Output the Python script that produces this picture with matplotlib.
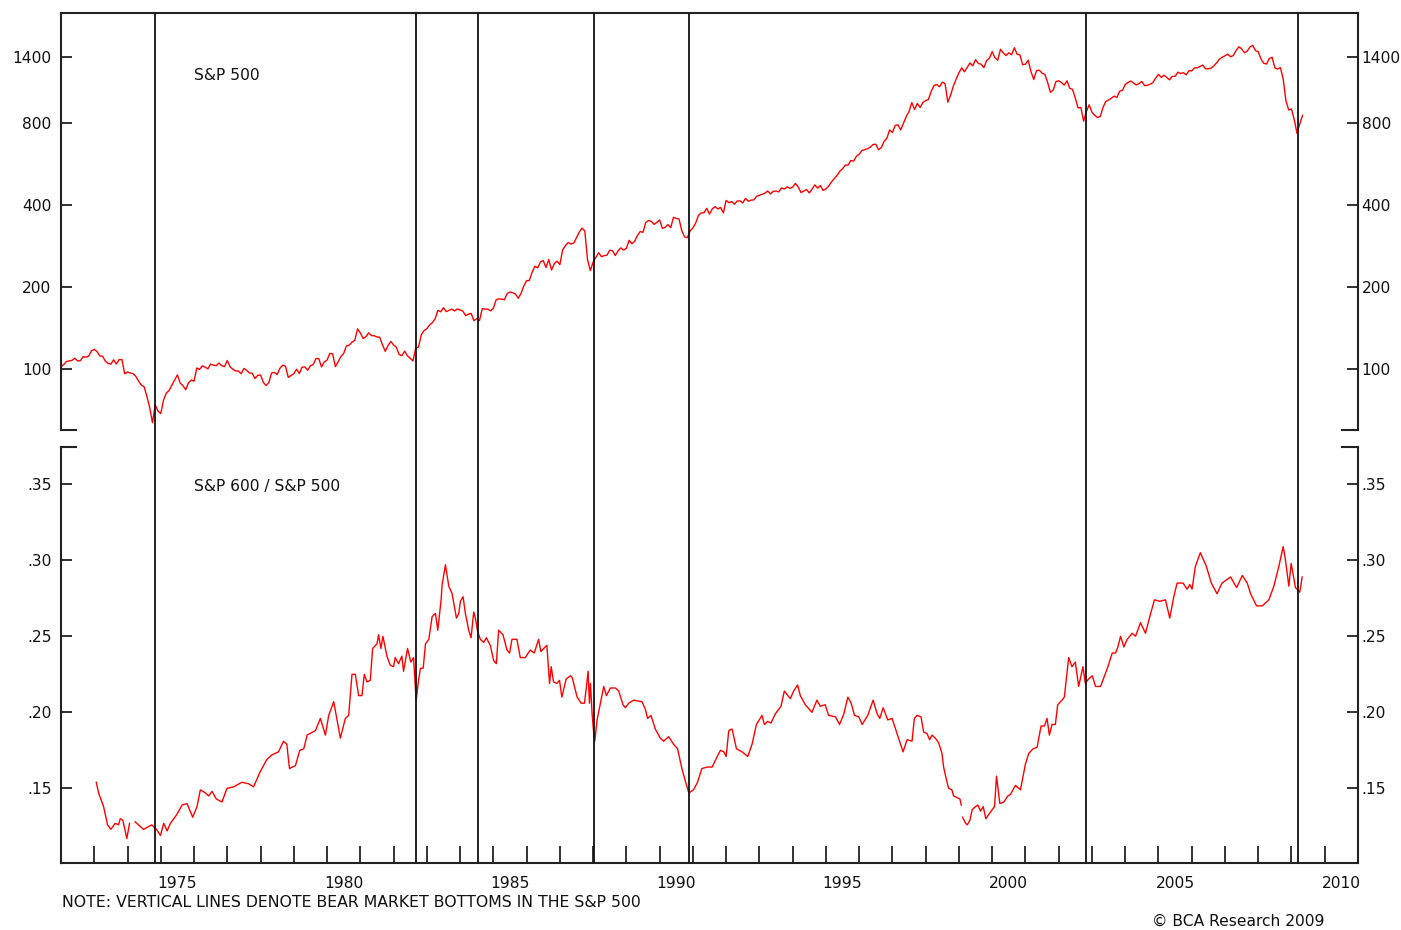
import numpy as np
import matplotlib
matplotlib.use("Agg")
import matplotlib.pyplot as plt
from matplotlib.ticker import FixedLocator, NullLocator

plt.rcParams['font.family'] = ['DejaVu Sans']

# S&P 500, month-end values, Dec 1971 .. Apr 2009
sp500 = [
    102.1,
    103.9, 106.6, 107.2, 107.7, 109.5, 107.1, 107.4, 111.1, 110.6, 111.6, 116.7, 118.1,  # 1972
    116.0, 111.7, 111.5, 106.9, 104.9, 104.3, 108.2, 104.3, 108.4, 108.3, 96.0, 97.6,  # 1973
    96.6, 96.2, 94.0, 90.3, 87.3, 86.0, 79.3, 72.2, 63.5, 73.9, 70.0, 68.6,  # 1974
    77.0, 81.6, 83.4, 87.3, 91.2, 95.2, 88.8, 86.9, 83.9, 89.0, 91.2, 90.2,  # 1975
    100.9, 99.7, 102.8, 101.6, 100.2, 104.3, 103.4, 102.9, 105.2, 102.9, 102.1, 107.5,  # 1976
    102.0, 99.8, 98.4, 98.4, 96.1, 100.5, 98.9, 96.8, 96.5, 92.3, 94.8, 95.1,  # 1977
    89.3, 87.0, 89.2, 96.8, 97.2, 95.5, 100.7, 103.3, 102.5, 93.2, 94.7, 96.1,  # 1978
    99.9, 96.3, 101.6, 101.8, 99.1, 102.9, 103.8, 109.3, 109.3, 101.8, 106.2, 107.9,  # 1979
    114.2, 113.7, 102.1, 106.3, 111.2, 114.2, 121.7, 122.4, 125.5, 127.5, 140.5, 135.8,  # 1980
    129.6, 131.3, 136.0, 132.8, 132.6, 131.2, 130.9, 122.8, 116.2, 121.9, 126.4, 122.6,  # 1981
    120.4, 113.1, 112.0, 116.4, 111.9, 109.6, 107.1, 119.5, 120.4, 133.7, 138.5, 140.6,  # 1982
    145.3, 148.1, 153.0, 164.4, 162.4, 168.1, 162.6, 164.4, 166.1, 163.6, 166.4, 164.9,  # 1983
    163.4, 157.1, 159.2, 160.1, 150.6, 153.2, 150.7, 166.7, 166.1, 166.1, 163.6, 167.2,  # 1984
    179.6, 181.2, 180.7, 179.8, 189.6, 191.9, 190.9, 188.6, 182.1, 189.8, 202.2, 211.3,  # 1985
    211.8, 226.9, 238.9, 235.5, 247.4, 250.8, 236.1, 252.9, 231.3, 244.0, 249.2, 242.2,  # 1986
    274.1, 284.2, 291.7, 288.4, 290.1, 304.0, 318.7, 329.8, 321.8, 251.8, 230.3, 247.1,  # 1987
    257.1, 267.8, 258.9, 261.3, 262.2, 273.5, 272.0, 261.5, 271.9, 279.0, 273.7, 277.7,  # 1988
    297.5, 288.9, 294.9, 309.6, 320.5, 318.0, 346.1, 351.5, 349.2, 340.4, 346.0, 353.4,  # 1989
    329.1, 331.9, 339.9, 330.8, 361.2, 358.0, 356.2, 322.6, 306.1, 304.0, 322.2, 330.2,  # 1990
    343.9, 367.1, 375.2, 375.3, 389.8, 371.2, 387.8, 395.4, 387.9, 392.5, 375.2, 417.1,  # 1991
    408.8, 412.7, 403.7, 414.9, 415.4, 408.1, 424.2, 414.0, 417.8, 418.7, 431.4, 435.7,  # 1992
    438.8, 443.4, 451.7, 440.2, 450.2, 451.0, 448.1, 463.6, 458.9, 467.8, 461.8, 466.5,  # 1993
    481.6, 467.1, 445.8, 451.0, 457.3, 444.3, 458.3, 475.5, 462.7, 472.4, 453.7, 459.3,  # 1994
    470.4, 487.4, 500.7, 514.7, 533.4, 544.8, 562.1, 561.9, 584.4, 581.5, 605.4, 615.9,  # 1995
    636.0, 640.4, 645.5, 654.2, 669.1, 670.6, 640.0, 652.0, 687.3, 705.3, 757.0, 740.7,  # 1996
    786.2, 790.8, 757.1, 801.3, 848.3, 885.1, 954.3, 899.5, 947.3, 914.6, 955.4, 970.4,  # 1997
    980.3, 1049.3, 1101.8, 1111.8, 1090.8, 1133.8, 1120.7, 957.3, 1017.0, 1098.7, 1163.6, 1229.2,  # 1998
    1279.6, 1238.3, 1286.4, 1335.2, 1301.8, 1372.7, 1328.7, 1320.4, 1282.7, 1362.9, 1389.0, 1469.3,  # 1999
    1394.5, 1366.4, 1498.6, 1452.4, 1420.6, 1454.6, 1430.8, 1517.7, 1436.5, 1429.4, 1315.2, 1320.3,  # 2000
    1366.0, 1239.9, 1160.3, 1249.5, 1255.8, 1224.4, 1211.2, 1133.6, 1040.9, 1059.8, 1139.5, 1148.1,  # 2001
    1130.2, 1106.7, 1147.4, 1076.9, 1067.1, 989.8, 911.6, 916.1, 815.3, 885.8, 936.3, 879.8,  # 2002
    855.7, 841.2, 848.2, 916.9, 963.6, 974.5, 990.3, 1008.0, 996.0, 1050.7, 1058.2, 1111.9,  # 2003
    1131.1, 1144.9, 1126.2, 1107.3, 1120.7, 1140.8, 1101.7, 1104.2, 1114.6, 1130.2, 1173.8, 1211.9,  # 2004
    1181.3, 1203.6, 1180.6, 1156.9, 1191.5, 1191.3, 1234.2, 1220.3, 1228.8, 1207.0, 1249.5, 1248.3,  # 2005
    1280.1, 1280.7, 1294.9, 1310.6, 1270.1, 1270.2, 1276.7, 1303.8, 1335.9, 1377.9, 1400.6, 1418.3,  # 2006
    1438.2, 1406.8, 1420.9, 1482.4, 1530.6, 1503.4, 1455.3, 1474.0, 1526.8, 1549.4, 1481.1, 1468.4,  # 2007
    1378.6, 1330.6, 1322.7, 1385.6, 1400.4, 1280.0, 1267.4, 1282.8, 1166.4, 968.8, 896.2, 903.3,  # 2008
    825.9, 735.1, 797.9, 856.0,  # 2009
]
sp_first_year = 1972.0  # month-end Dec 1971

# S&P 600 / S&P 500 relative (nan = break in the series)
ratio_years = [
    1973.06, 1973.13, 1973.28, 1973.40, 1973.50, 1973.63, 1973.73, 1973.78, 1973.86, 1973.98,
    1974.06, 1974.10, 1974.23, 1974.48, 1974.73, 1974.87, 1974.99, 1975.09, 1975.19, 1975.29,
    1975.49, 1975.64, 1975.79, 1975.96, 1976.09, 1976.19, 1976.34, 1976.44, 1976.54, 1976.67,
    1976.84, 1976.99, 1977.19, 1977.44, 1977.64, 1977.79, 1977.99, 1978.19, 1978.34, 1978.54,
    1978.69, 1978.79, 1978.87, 1979.05, 1979.18, 1979.30, 1979.40, 1979.65, 1979.80, 1979.95,
    1980.05, 1980.20, 1980.40, 1980.55, 1980.65, 1980.75, 1980.85, 1980.95, 1981.05, 1981.12,
    1981.20, 1981.30, 1981.37, 1981.50, 1981.55, 1981.62, 1981.68, 1981.80, 1981.90, 1982.00,
    1982.05, 1982.15, 1982.25, 1982.30, 1982.42, 1982.52, 1982.60, 1982.68, 1982.75, 1982.81,
    1982.89, 1982.96, 1983.06, 1983.16, 1983.26, 1983.33, 1983.43, 1983.46, 1983.56, 1983.66,
    1983.76, 1983.89, 1983.96,
    1984.01, 1984.09, 1984.16, 1984.26, 1984.33, 1984.41, 1984.46, 1984.53, 1984.61, 1984.71,
    1984.79, 1984.91, 1985.01, 1985.09, 1985.16, 1985.29, 1985.41, 1985.49, 1985.56, 1985.71,
    1985.81, 1985.96, 1986.11, 1986.23, 1986.36, 1986.43, 1986.56, 1986.61, 1986.69, 1986.74,
    1986.81, 1986.91, 1986.99, 1987.06, 1987.19, 1987.32, 1987.37, 1987.52, 1987.64, 1987.74,
    1987.80, 1987.85, 1987.89, 1987.92, 1987.97, 1988.02, 1988.05, 1988.12, 1988.22, 1988.32,
    1988.40, 1988.52, 1988.67, 1988.77, 1988.90, 1988.97, 1989.07, 1989.22, 1989.47, 1989.57,
    1989.64, 1989.74, 1989.87, 1990.02, 1990.12, 1990.27, 1990.42, 1990.54, 1990.67, 1990.77,
    1990.88, 1991.02, 1991.14, 1991.27, 1991.43, 1991.58, 1991.71, 1991.83, 1991.93, 1992.00,
    1992.08, 1992.18, 1992.31, 1992.48, 1992.65, 1992.78, 1992.91, 1993.08, 1993.15, 1993.25,
    1993.35, 1993.48, 1993.65, 1993.75, 1993.93, 1994.03, 1994.15, 1994.23, 1994.38, 1994.58,
    1994.73, 1994.83, 1994.98, 1995.08, 1995.29, 1995.41, 1995.54, 1995.66, 1995.76, 1995.86,
    1995.99, 1996.09, 1996.26, 1996.42, 1996.54, 1996.62, 1996.72, 1996.86, 1996.99, 1997.14,
    1997.32, 1997.44, 1997.59, 1997.66, 1997.74, 1997.86,
    1997.94, 1998.04, 1998.12, 1998.19, 1998.29, 1998.39, 1998.49, 1998.54, 1998.62, 1998.69,
    1998.79, 1998.84, 1999.03, 1999.07, 1999.09, 1999.11, 1999.20, 1999.25, 1999.33, 1999.40,
    1999.50, 1999.57, 1999.65, 1999.73, 1999.81, 1999.90, 2000.00, 2000.07, 2000.13, 2000.23,
    2000.35, 2000.47, 2000.55, 2000.70, 2000.85, 2001.00, 2001.10, 2001.23, 2001.35, 2001.47,
    2001.57, 2001.65, 2001.72, 2001.80, 2001.90, 2001.97, 2002.10, 2002.17, 2002.25, 2002.30,
    2002.40, 2002.50, 2002.60, 2002.67, 2002.73, 2002.80, 2002.90, 2003.01, 2003.11, 2003.26,
    2003.41, 2003.48, 2003.61, 2003.71, 2003.78, 2003.86, 2003.96, 2004.06, 2004.21, 2004.31,
    2004.46, 2004.61, 2004.74, 2004.88, 2005.04, 2005.21, 2005.34, 2005.46, 2005.56, 2005.74,
    2005.86, 2005.94, 2006.01, 2006.11, 2006.26, 2006.44, 2006.59, 2006.76, 2006.91, 2007.17,
    2007.35, 2007.52, 2007.67, 2007.77, 2007.95, 2008.12, 2008.32, 2008.47, 2008.62, 2008.75,
    2008.82, 2008.92, 2008.99, 2009.12, 2009.25, 2009.32,
]
ratio_values = [
    0.154, 0.147, 0.138, 0.126, 0.123, 0.127, 0.126, 0.130, 0.129, 0.117,
    0.127, np.nan, 0.128, 0.123, 0.126, 0.123, 0.119, 0.127, 0.122, 0.127,
    0.133, 0.139, 0.140, 0.131, 0.138, 0.149, 0.147, 0.145, 0.148, 0.143,
    0.141, 0.150, 0.151, 0.154, 0.153, 0.151, 0.161, 0.169, 0.172, 0.174,
    0.181, 0.179, 0.163, 0.165, 0.175, 0.176, 0.185, 0.188, 0.196, 0.185,
    0.198, 0.207, 0.183, 0.196, 0.198, 0.225, 0.225, 0.211, 0.211, 0.225,
    0.220, 0.221, 0.242, 0.245, 0.251, 0.242, 0.250, 0.237, 0.231, 0.230,
    0.236, 0.232, 0.237, 0.227, 0.242, 0.233, 0.236, 0.208, 0.221, 0.229,
    0.229, 0.245, 0.248, 0.263, 0.265, 0.254, 0.274, 0.284, 0.297, 0.283,
    0.278, 0.262, 0.265,
    0.273, 0.276, 0.265, 0.254, 0.249, 0.266, 0.262, 0.253, 0.248, 0.246,
    0.249, 0.244, 0.234, 0.232, 0.254, 0.251, 0.241, 0.239, 0.248, 0.248,
    0.236, 0.236, 0.241, 0.239, 0.248, 0.240, 0.243, 0.244, 0.219, 0.230,
    0.220, 0.219, 0.221, 0.210, 0.222, 0.224, 0.223, 0.210, 0.206, 0.206,
    0.217, 0.227, 0.206, 0.219, 0.199, 0.186, 0.181, 0.195, 0.206, 0.217,
    0.211, 0.216, 0.216, 0.214, 0.205, 0.203, 0.206, 0.208, 0.207, 0.202,
    0.196, 0.198, 0.189, 0.183, 0.181, 0.184, 0.179, 0.176, 0.163, 0.155,
    0.147, 0.149, 0.154, 0.163, 0.164, 0.164, 0.170, 0.175, 0.174, 0.171,
    0.188, 0.189, 0.176, 0.174, 0.171, 0.179, 0.192, 0.198, 0.192, 0.194,
    0.193, 0.199, 0.204, 0.214, 0.209, 0.214, 0.218, 0.211, 0.205, 0.200,
    0.208, 0.204, 0.205, 0.198, 0.197, 0.192, 0.199, 0.210, 0.206, 0.198,
    0.197, 0.192, 0.198, 0.208, 0.199, 0.196, 0.203, 0.195, 0.196, 0.186,
    0.174, 0.182, 0.181, 0.196, 0.198, 0.197,
    0.187, 0.186, 0.182, 0.185, 0.183, 0.180, 0.173, 0.164, 0.156, 0.150,
    0.149, 0.145, 0.143, 0.139, np.nan, 0.131, 0.127, 0.126, 0.129, 0.136,
    0.138, 0.139, 0.135, 0.138, 0.130, 0.133, 0.136, 0.138, 0.158, 0.140,
    0.141, 0.145, 0.146, 0.152, 0.149, 0.166, 0.173, 0.176, 0.177, 0.191,
    0.191, 0.196, 0.185, 0.192, 0.192, 0.205, 0.208, 0.210, 0.226, 0.236,
    0.230, 0.233, 0.217, 0.224, 0.230, 0.219, 0.222, 0.224, 0.217, 0.217,
    0.226, 0.230, 0.239, 0.239, 0.243, 0.250, 0.243, 0.248, 0.252, 0.250,
    0.259, 0.252, 0.263, 0.274, 0.273, 0.274, 0.262, 0.276, 0.285, 0.285,
    0.281, 0.284, 0.281, 0.296, 0.305, 0.296, 0.285, 0.278, 0.285, 0.289,
    0.282, 0.290, 0.285, 0.278, 0.270, 0.270, 0.274, 0.283, 0.296, 0.309,
    0.300, 0.283, 0.298, 0.282, 0.279, 0.289,
]

# bear market bottoms in the S&P 500
bear_bottoms = [1974.83, 1982.68, 1984.53, 1988.04, 1990.89, 2002.83, 2009.20]

sp_ticks = [100, 200, 400, 800, 1400]
ratio_ticks = [0.15, 0.20, 0.25, 0.30, 0.35]
ratio_labels = ['.15', '.20', '.25', '.30', '.35']
year_labels = [1975, 1980, 1985, 1990, 1995, 2000, 2005, 2010]

frame_col = '#222222'
red = '#ff0000'
fs = 11.2

W, H = 1401, 930
fig = plt.figure(figsize=(W / 100, H / 100), dpi=100)
L, R = 61, 1358


def box(top, bottom):
    return [L / W, 1 - bottom / H, (R - L) / W, (bottom - top) / H]


ax_top = fig.add_axes(box(13, 430))
ax_bot = fig.add_axes(box(447, 863))

sp_years = sp_first_year + np.arange(len(sp500)) / 12.0
ax_top.plot(sp_years, sp500, color=red, lw=1.0)
ax_bot.plot(ratio_years, ratio_values, color=red, lw=1.0)

for ax in (ax_top, ax_bot):
    ax.set_xlim(1972, 2011)
    for s in ax.spines.values():
        s.set_color(frame_col)
        s.set_linewidth(1.5)

ax_top.spines['bottom'].set_visible(False)
ax_bot.spines['top'].set_visible(False)

# little feet where the panels break
for ax, yy in ((ax_top, 0), (ax_bot, 1)):
    ax.plot([0, 15 / (R - L)], [yy, yy], transform=ax.transAxes, color=frame_col,
            lw=1.5, clip_on=False, solid_capstyle='projecting')
    ax.plot([1 - 16 / (R - L), 1], [yy, yy], transform=ax.transAxes, color=frame_col,
            lw=1.5, clip_on=False, solid_capstyle='projecting')

# top panel: log scale
ax_top.set_yscale('log')
ax_top.set_ylim(59.7, 2037)
ax_top.tick_params(axis='x', which='both', bottom=False, top=False, labelbottom=False)

# bottom panel
ax_bot.set_ylim(0.1009, 0.3745)
ax_bot.xaxis.set_major_locator(FixedLocator(np.arange(1973, 2011)))
ax_bot.xaxis.set_minor_locator(FixedLocator([y + 0.5 for y in year_labels]))
ax_bot.set_xticklabels([], minor=False)
ax_bot.set_xticklabels([str(y) for y in year_labels], minor=True)
ax_bot.tick_params(axis='x', which='major', direction='in', length=12, width=1.3,
                   color=frame_col, top=False)
ax_bot.tick_params(axis='x', which='minor', length=0, pad=9.0, labelsize=fs,
                   labelcolor='#111111', top=False)

for ax, ticks, labels in ((ax_top, sp_ticks, [str(t) for t in sp_ticks]),
                          (ax_bot, ratio_ticks, ratio_labels)):
    ax.yaxis.set_major_locator(FixedLocator(ticks))
    ax.yaxis.set_minor_locator(NullLocator())
    ax.set_yticklabels(labels)
    ax.tick_params(axis='y', which='major', direction='in', length=8, width=1.3,
                   color=frame_col, left=True, right=False, pad=6.8,
                   labelsize=fs, labelcolor='#111111')
    # right-hand copy of the scale
    axr = ax.twinx()
    if ax is ax_top:
        axr.set_yscale('log')
    axr.set_ylim(ax.get_ylim())
    for s in axr.spines.values():
        s.set_visible(False)
    axr.yaxis.set_major_locator(FixedLocator(ticks))
    axr.yaxis.set_minor_locator(NullLocator())
    axr.set_yticklabels(labels)
    axr.tick_params(axis='y', which='major', direction='in', length=8, width=1.3,
                    color=frame_col, pad=2.7, labelsize=fs, labelcolor='#111111')
    axr.tick_params(axis='x', which='both', bottom=False, top=False, labelbottom=False)

# vertical lines across both panels
ax_vl = fig.add_axes(box(13, 863))
ax_vl.set_xlim(1972, 2011)
ax_vl.set_ylim(0, 1)
ax_vl.axis('off')
for b in bear_bottoms:
    ax_vl.axvline(b, color='#111111', lw=1.3)

ax_top.text(0.1025, 0.851, 'S&P 500', transform=ax_top.transAxes,
            ha='left', va='center', fontsize=fs, color='#111111')
ax_bot.text(0.1025, 0.904, 'S&P 600 / S&P 500', transform=ax_bot.transAxes,
            ha='left', va='center', fontsize=fs, color='#111111')

fig.text(61.5 / W, 1 - 902.5 / H, 'NOTE: VERTICAL LINES DENOTE BEAR MARKET BOTTOMS IN THE S&P 500',
         ha='left', va='center', fontsize=11.3, color='#111111')
fig.text(1152 / W, 1 - 921 / H, '\u00a9 BCA Research 2009',
         ha='left', va='center', fontsize=fs, color='#111111')

fig.savefig('out.png', dpi=100)
